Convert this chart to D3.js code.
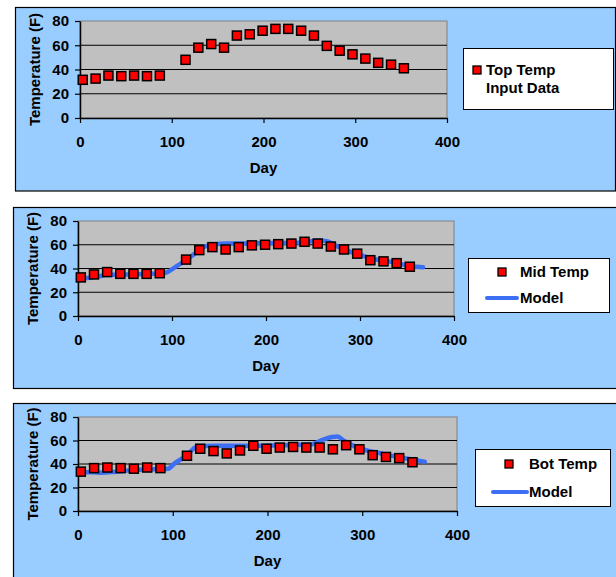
<!DOCTYPE html>
<html><head><meta charset="utf-8">
<script src="https://cdn.jsdelivr.net/npm/d3@7"></script>
<style>
body{margin:0;background:#fff;}
svg{display:block;font-family:"Liberation Sans",Arial,sans-serif;font-weight:bold;}
</style></head>
<body>
<svg id="c" width="616" height="577"></svg>
<script>
// Sample days (shared by all three series)
const days = [3,17,31,45,59,73,87,115,129,143,157,171,185,199,213,227,241,255,269,283,297,311,325,339,353];
const topTemp = [31.5,32.5,35,34.5,35,34.5,35,48,58,61,58,68,69,72,73.5,73.5,72,68,59.5,55.5,52.5,49,45.5,44,41];
const midTemp = [32.5,35,37,35.5,35.5,35.5,36,47.5,55.5,58,56,58,59.5,60,60.5,61,62.5,61,58.5,56,52.5,47,46,44.5,41.5];
const botTemp = [33.5,36.5,37,36.5,36,37,36.5,47,53,51,49,51.5,55.5,53,54,54.5,54,54,52.5,56,52.5,47.5,46,45,41.5];
const midModelDays = [0,10,20,30,45,60,75,90,95,105,115,125,135,145,160,180,200,220,240,255,265,275,285,300,315,330,345,360,367];
const midModel     = [31.5,32,33,34.5,35,35,35.5,36,37,42,47,53,58.5,60.5,61,61,61.5,61.5,62,63.5,63,59,55.5,51.5,48,46,43.5,41.5,41];
const botModelDays = [0,15,25,40,60,80,95,102,115,125,145,180,220,245,258,268,274,280,292,305,320,340,366];
const botModel     = [33,33,32.5,33.5,35,35.5,36,40.5,47.5,54.5,55.5,55.5,56,56.5,60.5,63,63.5,60,55,51.5,49,45.5,42];
const xTicks = [0,100,200,300,400];
const yTicks = [0,20,40,60,80];

const svg = d3.select("#c");
const FS = "15px";

const panels = [
  {box:[15,7,600,183.5], plot:[80,21,447,118], dayY:173, yTitleX:40, series:topTemp, model:null,
   legend:{box:[463,48,150,61], labels:["Top Temp","Input Data"], mx:477, my:70, tx:486}},
  {box:[13,207,610,181], plot:[78,221,454,316], dayY:371, yTitleX:38, series:midTemp, model:[midModelDays, midModel],
   legend:{box:[468,258,141,54], labels:["Mid Temp"], mx:502, my:272, tx:520, ly:298, lx1:487, lx2:517}},
  {box:[13,403,610,190], plot:[78,417,457,511], dayY:566, yTitleX:38, series:botTemp, model:[botModelDays, botModel],
   legend:{box:[475,449,135,57], labels:["Bot Temp"], mx:509, my:464, tx:529, ly:492, lx1:493, lx2:527}}
];

panels.forEach(p => {
  const g = svg.append("g");
  g.append("rect").attr("x",p.box[0]+0.5).attr("y",p.box[1]+0.5).attr("width",p.box[2]).attr("height",p.box[3])
    .attr("fill","#99CCFF").attr("stroke","#000").attr("stroke-width",1.2);
  const [x0,y0,x1,y1] = p.plot;
  const x = d3.scaleLinear().domain([0,400]).range([x0,x1]);
  const y = d3.scaleLinear().domain([0,80]).range([y1,y0]);
  g.append("rect").attr("x",x0).attr("y",y0).attr("width",x1-x0).attr("height",y1-y0)
    .attr("fill","#C0C0C0").attr("stroke","#808080").attr("stroke-width",1);
  // gridlines
  g.selectAll(".grid").data(yTicks.filter(t=>t>0 && t<80)).join("line")
    .attr("x1",x0).attr("x2",x1).attr("y1",d=>y(d)).attr("y2",d=>y(d))
    .attr("stroke","#000").attr("stroke-width",1);
  // axes
  const xa = g.append("g").attr("transform",`translate(0,${y1})`)
    .call(d3.axisBottom(x).tickValues(xTicks).tickSize(5).tickPadding(13).tickSizeOuter(0));
  const ya = g.append("g").attr("transform",`translate(${x0},0)`)
    .call(d3.axisLeft(y).tickValues(yTicks).tickSize(5).tickPadding(6).tickSizeOuter(0));
  [xa,ya].forEach(a=>{
    a.select(".domain").attr("stroke","#000").attr("stroke-width",1.5);
    a.selectAll(".tick line").attr("stroke","#000").attr("stroke-width",1.2);
    a.selectAll("text").attr("fill","#000").style("font-size",FS).style("font-weight","bold")
      .style("font-family","'Liberation Sans',Arial,sans-serif");
  });
  // titles
  g.append("text").attr("x",x(200)).attr("y",p.dayY).attr("text-anchor","middle")
    .style("font-size",FS).text("Day");
  g.append("text").attr("transform",`translate(${p.yTitleX},${(y0+y1)/2}) rotate(-90)`)
    .attr("text-anchor","middle").style("font-size",FS).text("Temperature (F)");
  // model
  if (p.model) {
    const md = p.model[0].map((d,i)=>[d,p.model[1][i]]);
    g.append("path").datum(md)
      .attr("d", d3.line().x(d=>x(d[0])).y(d=>y(d[1])).curve(d3.curveMonotoneX))
      .attr("fill","none").attr("stroke","#3D6FF5").attr("stroke-width",4.5).attr("stroke-linecap","round");
  }
  // markers
  const s = 9;
  g.selectAll(".pt").data(days.map((d,i)=>[d,p.series[i]])).join("rect")
    .attr("x",d=>x(d[0])-s/2).attr("y",d=>y(d[1])-s/2).attr("width",s).attr("height",s)
    .attr("fill","#FF0000").attr("stroke","#000").attr("stroke-width",1.5);
  // legend
  const L = p.legend;
  g.append("rect").attr("x",L.box[0]+0.5).attr("y",L.box[1]+0.5).attr("width",L.box[2]).attr("height",L.box[3])
    .attr("fill","#fff").attr("stroke","#000").attr("stroke-width",1);
  const ls = 8;
  g.append("rect").attr("x",L.mx-ls/2).attr("y",L.my-ls/2).attr("width",ls).attr("height",ls)
    .attr("fill","#FF0000").attr("stroke","#000").attr("stroke-width",1.3);
  L.labels.forEach((t,i)=>{
    g.append("text").attr("x",L.tx).attr("y",L.my+18*i).attr("dy","0.35em")
      .style("font-size",FS).text(t);
  });
  if (p.model) {
    g.append("line").attr("x1",L.lx1).attr("x2",L.lx2).attr("y1",L.ly).attr("y2",L.ly)
      .attr("stroke","#3D6FF5").attr("stroke-width",4).attr("stroke-linecap","round");
    g.append("text").attr("x",L.tx).attr("y",L.ly).attr("dy","0.35em").style("font-size",FS).text("Model");
  }
});
</script>
</body></html>
